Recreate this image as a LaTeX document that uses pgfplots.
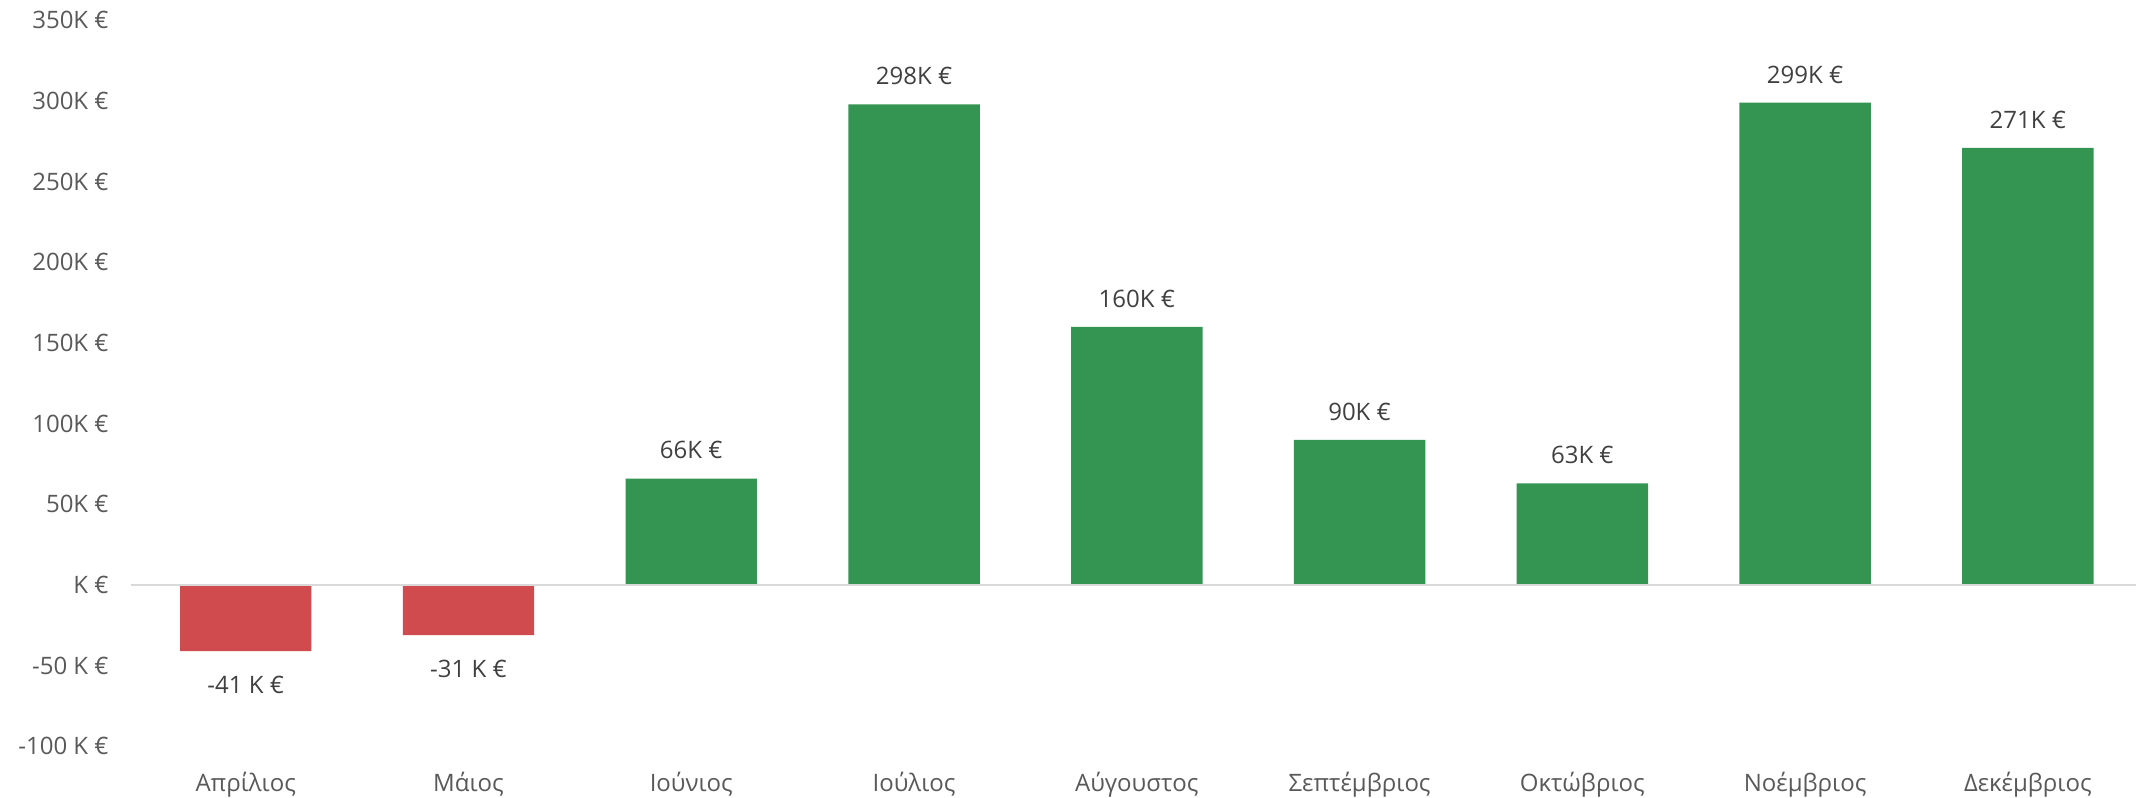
\documentclass[border=0pt]{standalone}
\usepackage{fontspec}
\setmainfont{Open Sans}
\usepackage{pgfplots}
\pgfplotsset{compat=1.18}
\definecolor{BarGreen}{RGB}{52,148,82}
\definecolor{BarRed}{RGB}{208,75,77}
\definecolor{TickGray}{RGB}{89,89,89}
\definecolor{LabelGray}{RGB}{64,64,64}
\definecolor{ZeroLine}{RGB}{217,217,217}

\begin{document}
\begin{tikzpicture}
\begin{axis}[
at={(0,0)},
anchor=south west,
scale only axis,
width=1002.5bp,
height=363bp,
xmin=-0.515, xmax=8.485,
ymin=-100, ymax=350,
axis line style={draw=none},
major tick length=0pt,
tick style={draw=none},
xtick={0,...,8},
xticklabels={Απρίλιος,Μάιος,Ιούνιος,Ιούλιος,Αύγουστος,Σεπτέμβριος,Οκτώβριος,Νοέμβριος,Δεκέμβριος},
ytick={-100,-50,0,50,100,150,200,250,300,350},
yticklabels={-100 K €,-50 K €,K €,50K €,100K €,150K €,200K €,250K €,300K €,350K €},
tick label style={font=\fontsize{12bp}{14bp}\selectfont, text=TickGray, inner sep=0pt},
yticklabel style={anchor=east, xshift=-11bp},
xticklabel style={anchor=base, yshift=-22.7bp},
bar width=0.59,
point meta=explicit symbolic,
nodes near coords,
every node near coord/.append style={font=\fontsize{12bp}{14bp}\selectfont, text=LabelGray, inner sep=0pt},
clip=false,
]

\addplot[ybar, bar shift=0pt, fill=BarRed, draw=none,
every node near coord/.append style={anchor=north, yshift=-12.5bp}]
coordinates {(0,-41) [-41 K €] (1,-31) [-31 K €]};

\addplot[ybar, bar shift=0pt, fill=BarGreen, draw=none,
every node near coord/.append style={anchor=south, yshift=9.5bp}]
coordinates {
(2,66) [66K €]
(3,298) [298K €]
(4,160) [160K €]
(5,90) [90K €]
(6,63) [63K €]
(7,299) [299K €]
(8,271) [271K €]};

\draw[ZeroLine, line width=1.2bp] (axis cs:-0.515,0) -- (axis cs:8.485,0);

\end{axis}
\pgfresetboundingbox
\path[use as bounding box] (-65.5bp,-25.7bp) rectangle (1002.5bp,373.2bp);
\end{tikzpicture}
\end{document}
